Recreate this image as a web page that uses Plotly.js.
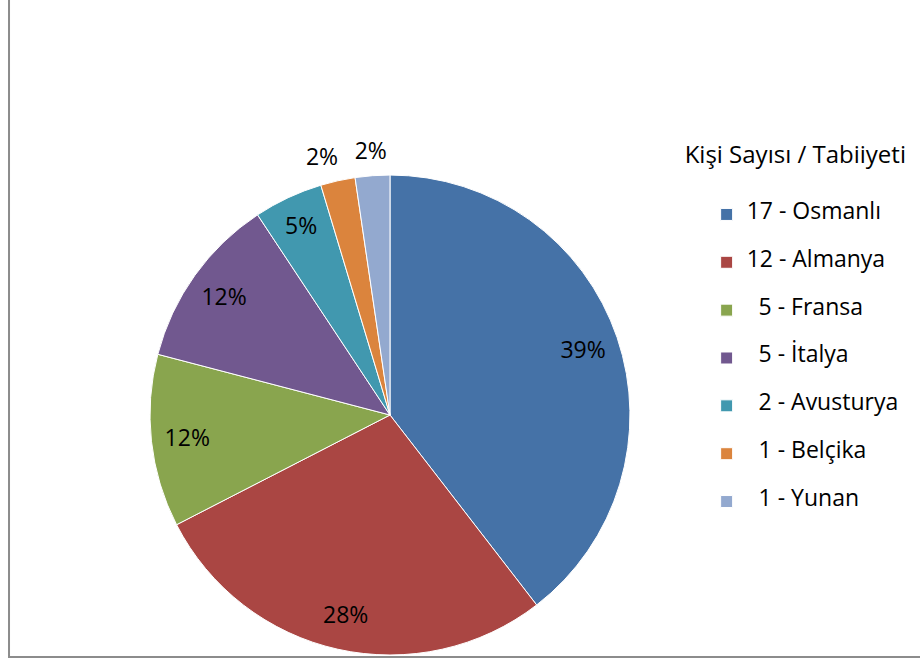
<!DOCTYPE html>
<html>
<head>
<meta charset="utf-8">
<script src="https://cdn.plot.ly/plotly-3.0.1.min.js"></script>
<style>html,body{margin:0;padding:0;background:#fff;}#chart{width:920px;height:661px;}</style>
</head>
<body>
<div id="chart"></div>
<script>
// Data
const counts = [17, 12, 5, 5, 2, 1, 1];
const countries = ["Osmanlı", "Almanya", "Fransa", "İtalya", "Avusturya", "Belçika", "Yunan"];
const percentLabels = ["39%", "28%", "12%", "12%", "5%", "2%", "2%"];
const legendTitle = "Kişi Sayısı / Tabiiyeti";

const colors = ["#4572A7", "#AA4643", "#89A54E", "#71588F", "#4198AF", "#DB843D", "#93A9CF"];
const FONT = "'Open Sans', Lato, sans-serif";
const FS = 23;

// legend labels: pad single-digit counts so text aligns like the reference
const legendLabels = counts.map((c, i) => {
  const pad = c < 10 ? "\u00A0\u00A0" : "";
  return "\u00A0<br><span style=\"font-size:" + FS + "px\">" + pad + c + " - " + countries[i] + "</span><br>\u00A0";
});

const n = counts.length;
const clear = counts.map(() => "rgba(0,0,0,0)");
const txtFont = {family: FONT, size: FS, color: "#000"};
const pieDomain = {x: [0.1630, 0.6848], y: [0.0091, 0.7352]};
const labelDomains = [
  {x: [0.1652, 0.7043], y: [0.0, 0.7504]},
  {x: [0.1793, 0.7185], y: [0.0, 0.7504]}
];
const outsideIdx = [n - 2, n - 1];

const common = {
  type: "pie", values: counts, labels: legendLabels,
  sort: false, direction: "clockwise", rotation: 0,
  hoverinfo: "none", texttemplate: "%{text}"
};

// Coloured pie with the legend
const pieA = Object.assign({}, common, {
  text: counts.map(() => ""),
  textposition: "none",
  marker: {colors: colors, line: {color: "#ffffff", width: 1}},
  domain: pieDomain, showlegend: true
});

// Transparent ring: places the inside labels near the rim
const pieB = Object.assign({}, common, {
  text: percentLabels.map((t, i) => outsideIdx.includes(i) ? "" : t),
  textposition: counts.map((c, i) => outsideIdx.includes(i) ? "none" : "inside"),
  insidetextorientation: "horizontal",
  textfont: txtFont, insidetextfont: txtFont,
  hole: 0.7,
  marker: {colors: clear, line: {width: 0}},
  domain: pieDomain, showlegend: false
});

// Transparent pies carrying one outside label each (so they are not pushed apart)
const outsideTraces = outsideIdx.map((k, j) => Object.assign({}, common, {
  text: percentLabels.map((t, i) => i === k ? t : ""),
  textposition: counts.map((c, i) => i === k ? "outside" : "none"),
  textfont: txtFont, outsidetextfont: txtFont,
  marker: {colors: clear, line: {width: 0}},
  domain: labelDomains[j], showlegend: false
}));

const layout = {
  width: 920,
  height: 661,
  margin: {l: 0, r: 0, t: 0, b: 0},
  paper_bgcolor: "#ffffff",
  font: {family: FONT, color: "#000"},
  showlegend: true,
  legend: {
    x: 0.742, y: 0.787, xanchor: "left", yanchor: "top",
    indentation: 24,
    font: {family: FONT, size: 11.5, color: "#000"},
    title: {text: "<span style=\"font-size:24px\">" + legendTitle + "</span><br>\u00A0",
            font: {family: FONT, size: 17.2, color: "#000"}, side: "top"},
    bgcolor: "rgba(0,0,0,0)"
  },
  shapes: [{
    type: "rect", xref: "paper", yref: "paper",
    x0: 0.0098, x1: 1.05, y0: 0.006, y1: 1.05,
    line: {color: "#8c8c8c", width: 2}, fillcolor: "rgba(0,0,0,0)", layer: "below"
  }]
};

Plotly.newPlot("chart", [pieA, pieB].concat(outsideTraces), layout, {staticPlot: true});
</script>
</body>
</html>
